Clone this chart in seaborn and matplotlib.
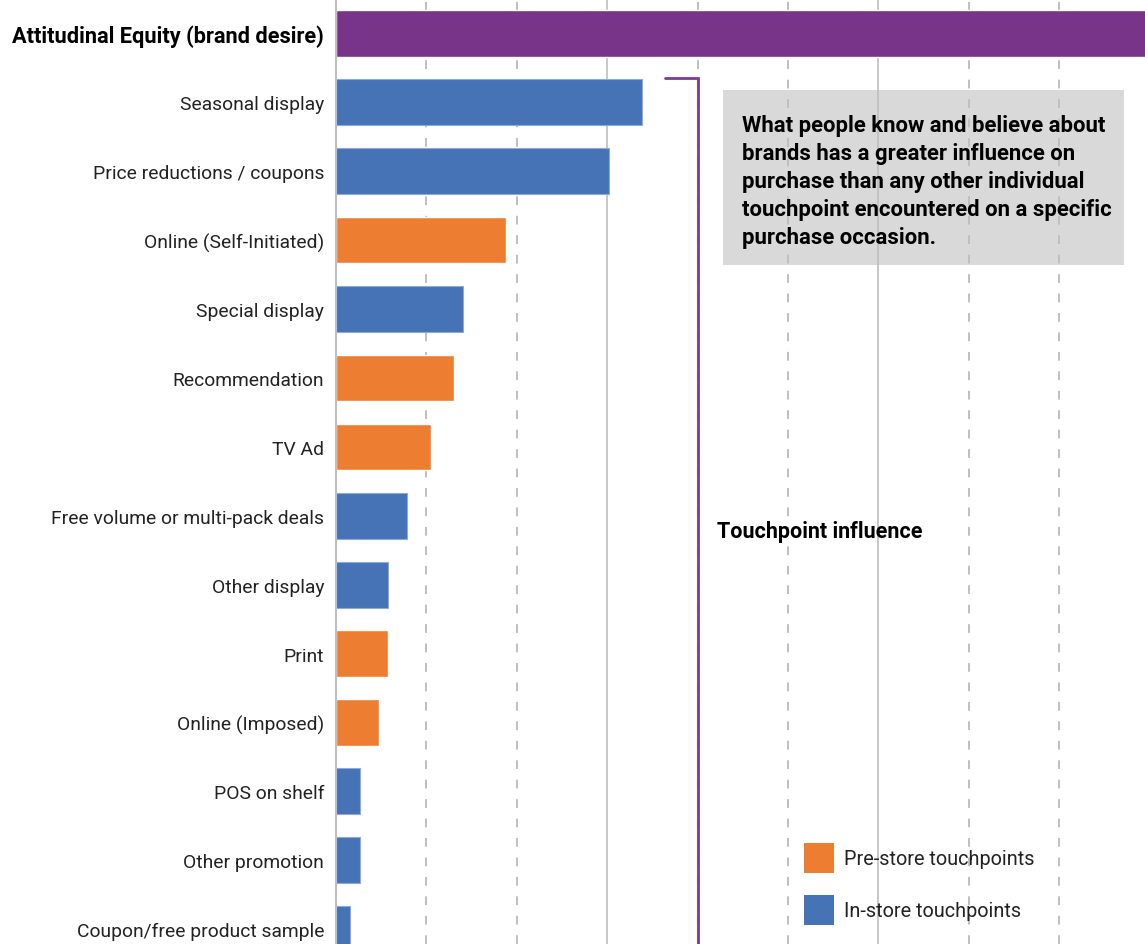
import matplotlib
matplotlib.use("Agg")
import matplotlib.pyplot as plt
from matplotlib import font_manager
from matplotlib.patches import Patch, Rectangle
import seaborn as sns
import pandas as pd

# ---- data ----
categories = [
    "Attitudinal Equity (brand desire)",
    "Seasonal display",
    "Price reductions / coupons",
    "Online (Self-Initiated)",
    "Special display",
    "Recommendation",
    "TV Ad",
    "Free volume or multi-pack deals",
    "Other display",
    "Print",
    "Online (Imposed)",
    "POS on shelf",
    "Other promotion",
    "Coupon/free product sample",
]
values = [10.0, 3.38, 3.02, 1.88, 1.41, 1.31, 1.05, 0.79, 0.58, 0.58, 0.48, 0.27, 0.27, 0.16]
groups = ["Equity", "In-store", "In-store", "Pre-store", "In-store", "Pre-store", "Pre-store",
          "In-store", "In-store", "Pre-store", "Pre-store", "In-store", "In-store", "In-store"]
legend_labels = ["Pre-store touchpoints", "In-store touchpoints"]
note_lines = [
    "What people know and believe about",
    "brands has a greater influence on",
    "purchase than any other individual",
    "touchpoint encountered on a specific",
    "purchase occasion.",
]
axis_title = "Touchpoint influence"

palette = {"Equity": "#773488", "In-store": "#4672B6", "Pre-store": "#ED7D31"}

# ---- fonts ----
available = {f.name for f in font_manager.fontManager.ttflist}
narrow = "Liberation Sans Narrow" in available
fam = "Liberation Sans Narrow" if narrow else "Roboto"
sns.set_theme(style="white")
plt.rcParams["font.family"] = [fam, "DejaVu Sans"]

label_fs = 15 if narrow else 13.9
bold_label_fs = 15 if narrow else 15.7
note_fs = 15.5 if narrow else 15.9
title_fs = 15.5 if narrow else 15.5
legend_fs = 15 if narrow else 14.3

W, H = 1145, 945
ROW = 68.9
fig = plt.figure(figsize=(W / 100, H / 100), dpi=100)
ax = fig.add_axes([336 / W, 0, 1 - 336 / W, 1])

df = pd.DataFrame({"cat": categories, "val": values, "grp": groups})
sns.barplot(data=df, y="cat", x="val", hue="grp", palette=palette, orient="h",
            dodge=False, width=0.67, legend=False, ax=ax, zorder=3, saturation=1)

px_unit = 90.4
y_bottom = (H - 0.5 * ROW) / ROW
ax.set_xlim(0, (W - 336) / px_unit)
ax.set_ylim(y_bottom, -0.5)
ax.set_xlabel("")
ax.set_ylabel("")
ax.set_xticks([])
for s in ["top", "right", "bottom"]:
    ax.spines[s].set_visible(False)
ax.spines["left"].set_color("#BFBFBF")
ax.spines["left"].set_linewidth(1.5)
ax.spines["left"].set_zorder(4)

ax.tick_params(axis="y", length=0, pad=8.5, labelsize=label_fs, labelcolor="#222222")
labels = ax.get_yticklabels()
labels[0].set_fontweight("bold")
labels[0].set_color("black")
labels[0].set_fontsize(bold_label_fs)

# light edge on blue bars
for p in ax.patches:
    fc = p.get_facecolor()
    if abs(fc[0] - 0x46 / 255) < 0.02 and abs(fc[2] - 0xB6 / 255) < 0.02:
        p.set_edgecolor("#8EA9DB")
        p.set_linewidth(0.8)

# gridlines
for g in range(1, 9):
    if g % 3 == 0:
        ax.axvline(g, color="#BFBFBF", lw=1.2, zorder=2)
    else:
        ax.axvline(g, color="#BFBFBF", lw=1.4, ls=(0, (4.5, 5.5)), zorder=2)

def dx(px):
    return (px - 336) / px_unit

def dy(py):
    return py / ROW - 0.5

# grey note box
ax.add_patch(Rectangle((dx(723), dy(91)), dx(1124) - dx(723), dy(266) - dy(91),
                       facecolor="#D9D9D9", edgecolor="none", zorder=1))
for i, line in enumerate(note_lines):
    fig.text(742 / W, 1 - (126 + 28 * i) / H, line, fontsize=note_fs,
             fontweight="bold", color="black", va="center", ha="left", zorder=5)

# purple bracket
ax.plot([dx(665), 4, 4], [dy(79), dy(79), y_bottom], color="#7B3A96", lw=2.0,
        solid_joinstyle="miter", zorder=3, clip_on=False)

fig.text(717 / W, 1 - 532 / H, axis_title, fontsize=title_fs, fontweight="bold",
         color="black", va="center", ha="left")

# legend
handles = [Patch(facecolor=palette["Pre-store"], edgecolor="none"),
           Patch(facecolor=palette["In-store"], edgecolor="none")]
leg = fig.legend(handles, legend_labels, loc="upper left",
                 bbox_to_anchor=(804 / W, 1 - 844 / H), frameon=False,
                 fontsize=legend_fs, handlelength=1.5, handleheight=1.94,
                 handletextpad=0.5, labelspacing=1.12, borderpad=0, borderaxespad=0)
for t in leg.get_texts():
    t.set_color("#222222")

fig.savefig("out.png", dpi=100)
